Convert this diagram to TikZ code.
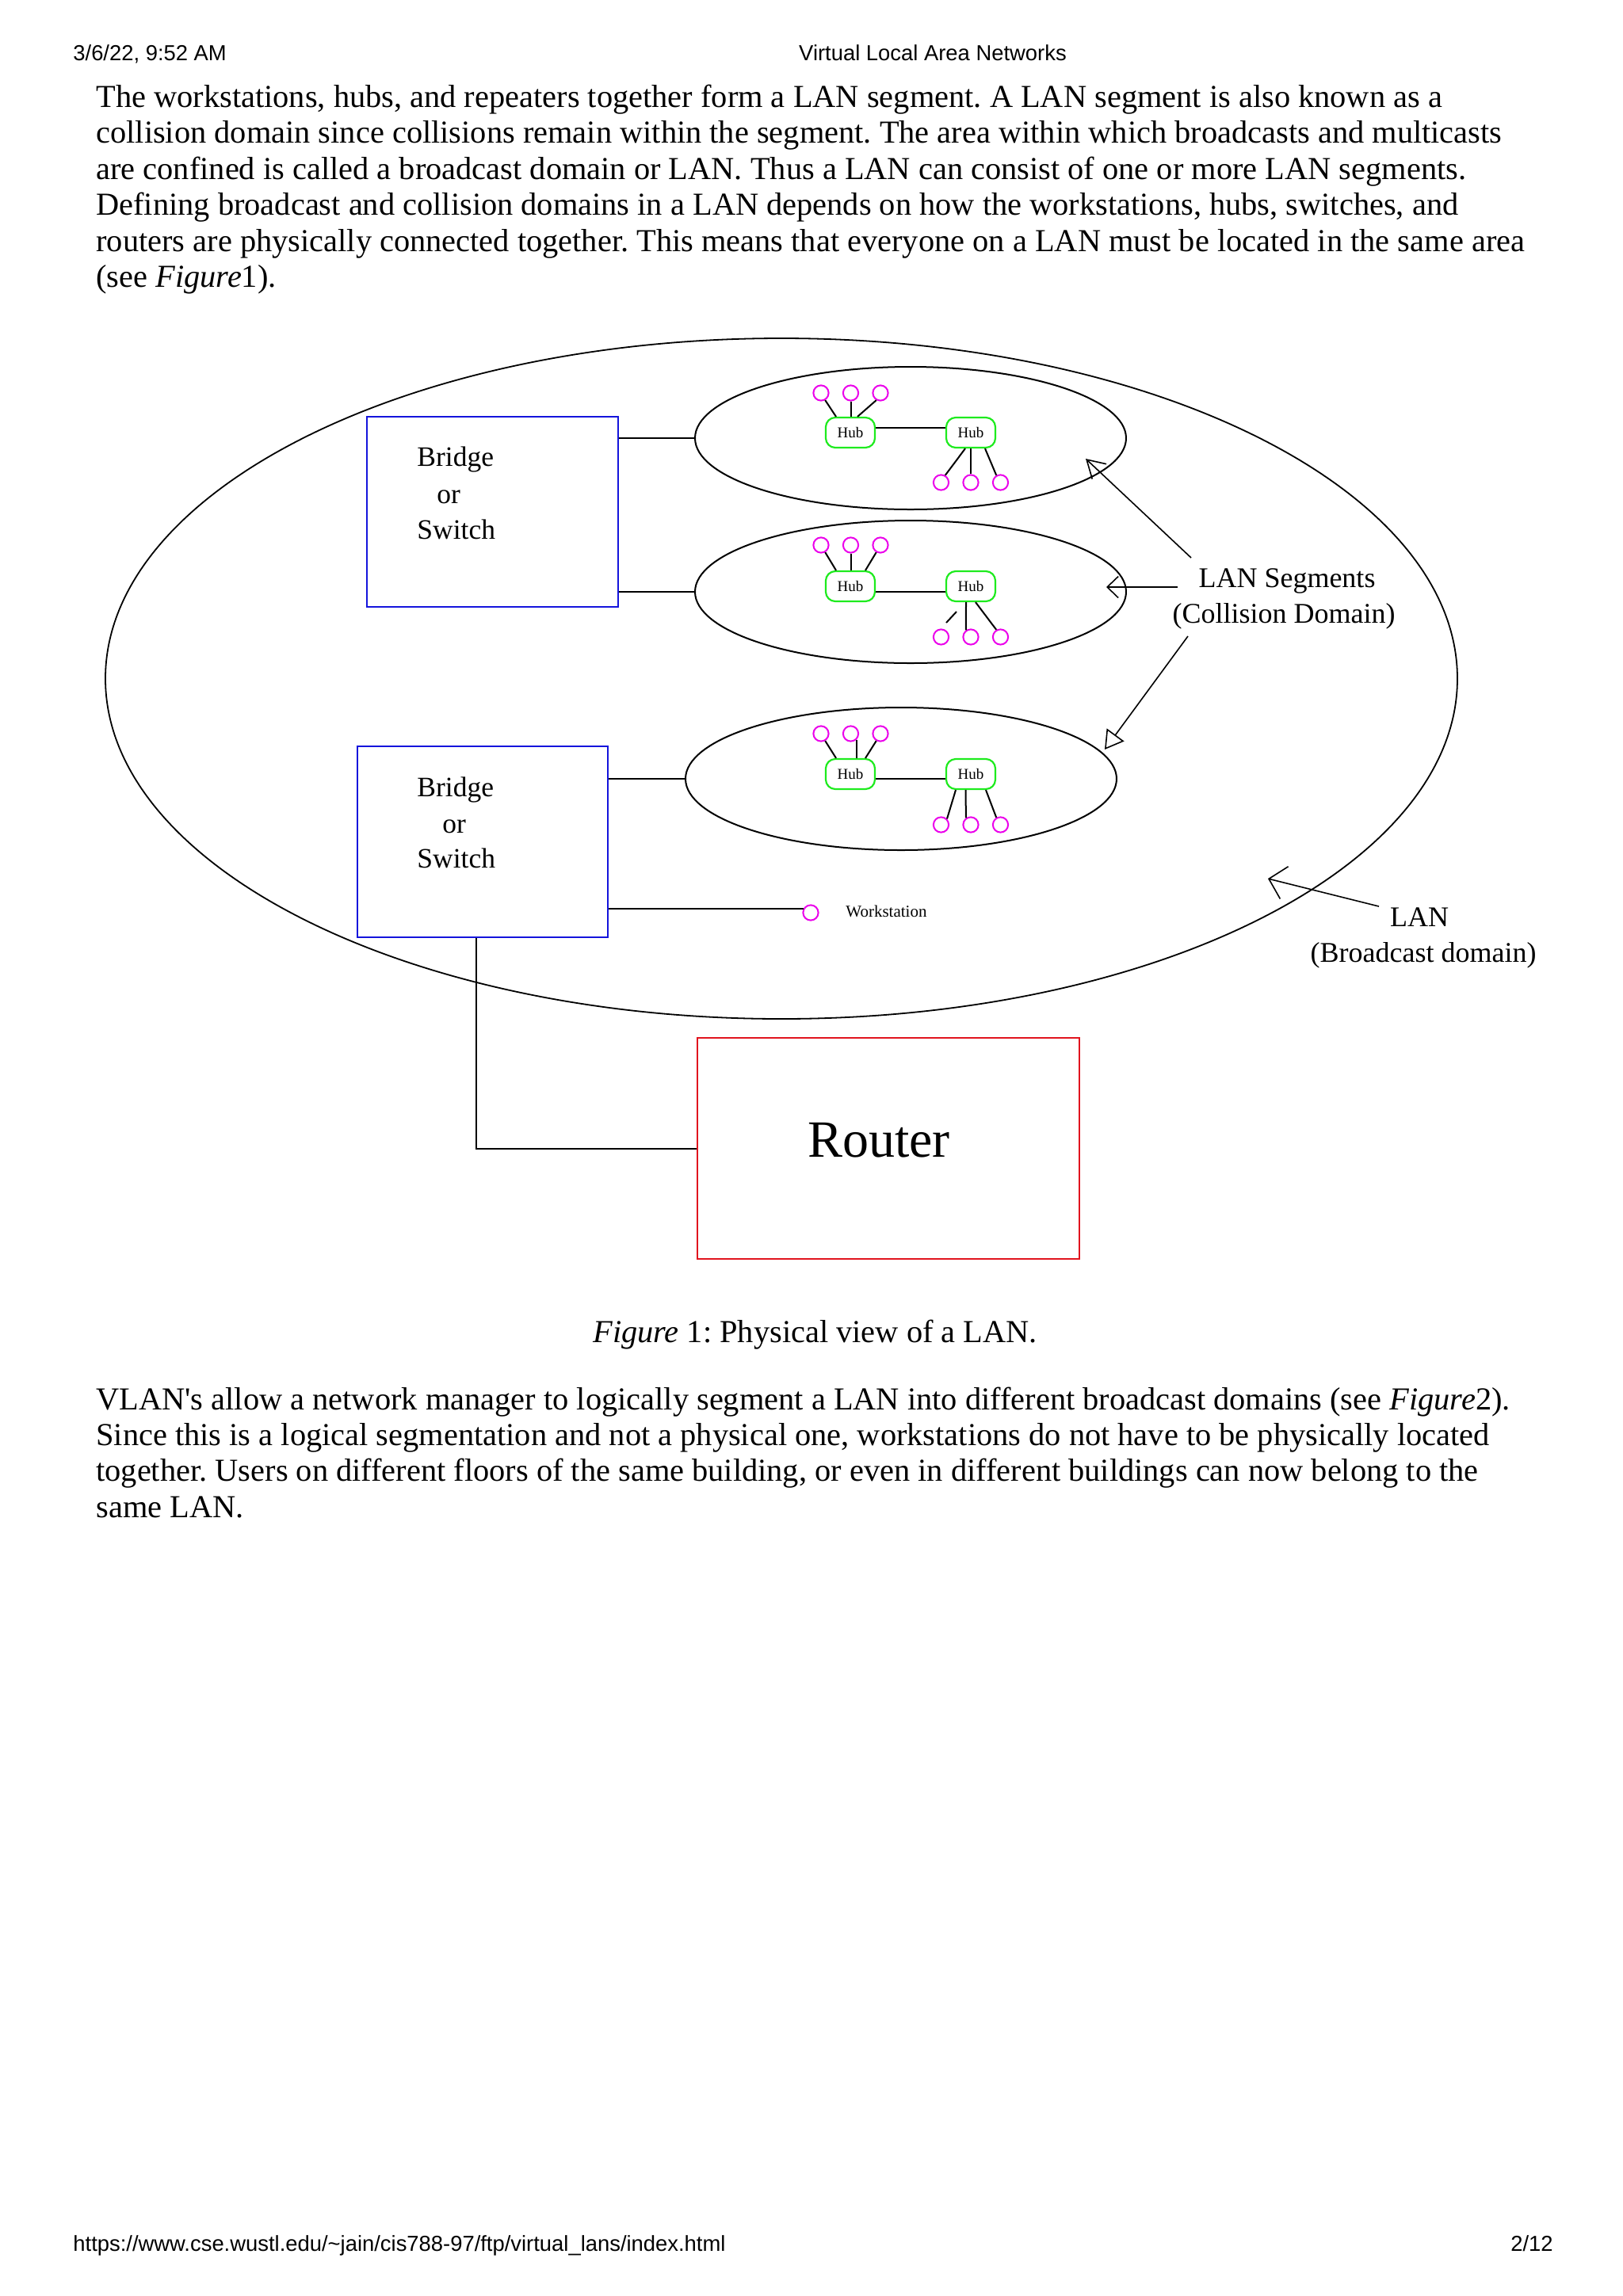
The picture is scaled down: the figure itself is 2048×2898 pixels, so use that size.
\documentclass[tikz,border=0pt]{standalone}
\usepackage{fontspec}
\setmainfont{Liberation Serif}
\newfontfamily\hdrfont{Liberation Sans}
\usetikzlibrary{shapes.geometric,arrows.meta,calc}
\definecolor{boxblue}{RGB}{20,20,220}
\definecolor{routerred}{RGB}{225,20,30}
\definecolor{hubgreen}{RGB}{30,235,30}
\definecolor{pcmag}{RGB}{235,0,235}
\newcommand\bodyf{\fontsize{20.2pt}{23pt}\selectfont}
\newcommand\hdrf{\hdrfont\fontsize{13.7pt}{16pt}\selectfont}
\newcommand\lblf{\fontsize{17.75pt}{20pt}\selectfont}
\newcommand\annf{\fontsize{18pt}{20pt}\selectfont}
\newcommand\hubf{\fontsize{9.5pt}{11pt}\selectfont}
\newcommand\wsf{\fontsize{10.5pt}{12pt}\selectfont}
\newcommand\routf{\fontsize{33pt}{36pt}\selectfont}
\frenchspacing
\begin{document}
\frenchspacing
\begin{tikzpicture}[x=0.5pt,y=-0.5pt,
  body/.style={anchor=base west, inner sep=0, font=\bodyf},
  hdr/.style={inner sep=0, font=\hdrf},
  wire/.style={line width=1pt, black},
  thinwire/.style={line width=0.8pt, black},
  hub/.style={draw=hubgreen, line width=1.1pt, rounded corners=6pt, minimum width=31pt, minimum height=19pt, inner sep=0, font=\hubf},
  pc/.style={circle, draw=pcmag, line width=1pt, minimum size=9.6pt, inner sep=0},
  seg/.style={ellipse, draw, line width=1pt, minimum width=272pt, minimum height=90pt, inner sep=0},
  bridgebox/.style={draw=boxblue, line width=1.1pt, inner sep=0},
  lbl/.style={anchor=base west, inner sep=0, font=\lblf},
  ann/.style={anchor=base, inner sep=0, font=\annf}
]
\fill[white] (0,0) rectangle (2048,2898);
\useasboundingbox (0,0) rectangle (2048,2898);

% header / footer
\node[hdr, anchor=base west] (hdate) at (92,76) {3/6/22, 9:52 AM};
\node[hdr, anchor=base] (htitle) at (1177,76) {Virtual Local Area Networks};
\node[hdr, anchor=base west] (furl) at (92,2841) {https://www.cse.wustl.edu/\textasciitilde jain/cis788-97/ftp/virtual\_lans/index.html};
\node[hdr, anchor=base east] (fpage) at (1960,2841) {2/12};

% top paragraph
\node[body] (p1) at (121,135) {The workstations, hubs, and repeaters together form a LAN segment. A LAN segment is also known as a};
\node[body] (p2) at (121,180.5) {collision domain since collisions remain within the segment. The area within which broadcasts and multicasts};
\node[body] (p3) at (121,226) {are confined is called a broadcast domain or LAN. Thus a LAN can consist of one or more LAN segments.};
\node[body] (p4) at (121,271.5) {Defining broadcast and collision domains in a LAN depends on how the workstations, hubs, switches, and};
\node[body] (p5) at (121,317) {routers are physically connected together. This means that everyone on a LAN must be located in the same area};
\node[body] (p6) at (121,362.5) {(see \textit{Figure}1).};

% big LAN ellipse
\node[ellipse, draw, line width=0.9pt, minimum width=853pt, minimum height=429.5pt, inner sep=0] (lan) at (986,856.5) {};

% bridges
\node[bridgebox, minimum width=158.5pt, minimum height=120pt] (box1) at (621.5,646) {};
\node[bridgebox, minimum width=158pt, minimum height=120.5pt] (box2) at (609,1062.5) {};
\node[lbl] (b1a) at (526,588) {Bridge};
\node[lbl] (b1b) at (551,635) {or};
\node[lbl] (b1c) at (526,680) {Switch};
\node[lbl] (b2a) at (526,1005) {Bridge};
\node[lbl] (b2b) at (558,1051) {or};
\node[lbl] (b2c) at (526,1095) {Switch};

% segment ellipses
\node[seg] (s1) at (1149,553) {};
\node[seg] (s2) at (1149,747) {};
\node[seg] (s3) at (1137,983) {};
\draw[wire] (box1.east |- s1.west) -- (s1.west);
\draw[wire] (box1.east |- s2.west) -- (s2.west);
\draw[wire] (box2.east |- s3.west) -- (s3.west);

% segment 1
\node[hub] (hA1) at (1073,546) {Hub};
\node[hub] (hB1) at (1225,546) {Hub};
\node[pc] (t11) at (1036,496) {};
\node[pc] (t12) at (1073.5,496) {};
\node[pc] (t13) at (1111,496) {};
\node[pc] (b11) at (1187.5,609) {};
\node[pc] (b12) at (1225,609) {};
\node[pc] (b13) at (1262.5,609) {};
\draw[wire] ($(hA1.east)+(0,-6)$) -- ($(hB1.west)+(0,-6)$);
\draw[wire] (t11.-60) -- ($(hA1.north)+(-18,0)$);
\draw[wire] (t12.south) -- (t12.south |- hA1.north);
\draw[wire] (t13.-120) -- ($(hA1.north)+(9,0)$);
\draw[wire] ($(hB1.south)+(-7,0)$) -- (b11.60);
\draw[wire] (b12.north) -- (b12.north |- hB1.south);
\draw[wire] ($(hB1.south)+(18,0)$) -- (b13.120);

% segment 2
\node[hub] (hA2) at (1073,740) {Hub};
\node[hub] (hB2) at (1225,740) {Hub};
\node[pc] (t21) at (1036,688) {};
\node[pc] (t22) at (1073.5,688) {};
\node[pc] (t23) at (1111,688) {};
\node[pc] (b21) at (1187.5,804) {};
\node[pc] (b22) at (1225,804) {};
\node[pc] (b23) at (1262.5,804) {};
\draw[wire] ($(hA2.east)+(0,7)$) -- ($(hB2.west)+(0,7)$);
\draw[wire] (t21.-60) -- ($(hA2.north)+(-18,0)$);
\draw[wire] (t22.south) -- (t22.south |- hA2.north);
\draw[wire] (t23.-120) -- ($(hA2.north)+(19,0)$);
\coordinate (f1) at (1207,772);
\coordinate (f2) at (1194,786);
\draw[wire] (f1) -- (f2);
\draw[wire] ($(hB2.south)+(-6,0)$) -- (b22.125);
\draw[wire] ($(hB2.south)+(6,0)$) -- (b23.120);

% segment 3
\node[hub] (hA3) at (1073,977) {Hub};
\node[hub] (hB3) at (1225,977) {Hub};
\node[pc] (t31) at (1036,926) {};
\node[pc] (t32) at (1073.5,926) {};
\node[pc] (t33) at (1111,926) {};
\node[pc] (b31) at (1187.5,1041) {};
\node[pc] (b32) at (1225,1041) {};
\node[pc] (b33) at (1262.5,1041) {};
\draw[wire] ($(hA3.east)+(0,6)$) -- ($(hB3.west)+(0,6)$);
\draw[wire] (t31.-60) -- ($(hA3.north)+(-18,0)$);
\draw[wire] (t32.-45) -- (t32.-45 |- hA3.north);
\draw[wire] (t33.-120) -- ($(hA3.north)+(19,0)$);
\draw[wire] ($(hB3.south)+(-19,0)$) -- (b31.45);
\draw[wire] ($(hB3.south)+(-6.5,0)$) -- (b32.125);
\draw[wire] ($(hB3.south)+(19,0)$) -- (b33.120);

% workstation
\node[pc] (ws) at (1023,1152) {};
\draw[wire] (box2.east |- ws.150) -- (ws.150);
\node[anchor=base west, inner sep=0, font=\wsf] (wst) at (1067,1157) {Workstation};

% router
\node[draw=routerred, line width=1.2pt, minimum width=241pt, minimum height=139.5pt, inner sep=0] (router) at (1121,1449.5) {};
\node[anchor=base, inner sep=0, font=\routf] (routt) at (1109,1460) {Router};
\draw[wire] ($(box2.south)+(-8,0)$) |- (router.west);

% annotations
\node[ann] (seg1) at (1624,741) {LAN Segments};
\node[ann] (seg2) at (1620,786) {(Collision Domain)};
\node[ann] (lan1) at (1791,1169) {LAN};
\node[ann] (lan2) at (1796,1214) {(Broadcast domain)};

\coordinate (a1s) at (1503,704);
\coordinate (a1t) at (1370,579);
\coordinate (a2s) at (1486,741);
\coordinate (a2t) at (1396,741);
\coordinate (a3s) at (1499,803);
\coordinate (a3t) at (1394,946);
\coordinate (a4s) at (1740,1144);
\coordinate (a4t) at (1600,1109);
\draw[thinwire, -{Straight Barb[length=11pt,width=13pt]}] (a1s) -- (a1t);
\draw[thinwire, -{Straight Barb[length=7pt,width=13.5pt]}] (a2s) -- (a2t);
\draw[thinwire, -{Triangle[open,length=11.5pt,width=13.5pt]}] (a3s) -- (a3t);
\draw[thinwire, -{Straight Barb[length=10pt,width=21pt]}] (a4s) -- (a4t);

% caption
\node[body] (cap) at (748,1694) {\textit{Figure} 1: Physical view of a LAN.};

% bottom paragraph
\node[body] (q1) at (121,1779) {VLAN\textquotesingle s allow a network manager to logically segment a LAN into different broadcast domains (see \textit{Figure}2).};
\node[body] (q2) at (121,1824.3) {Since this is a logical segmentation and not a physical one, workstations do not have to be physically located};
\node[body] (q3) at (121,1869.6) {together. Users on different floors of the same building, or even in different buildings can now belong to the};
\node[body] (q4) at (121,1915) {same LAN.};
\end{tikzpicture}
\end{document}
